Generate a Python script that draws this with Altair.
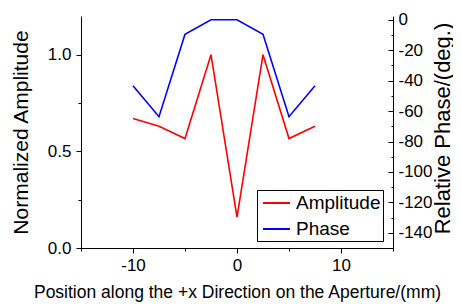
import altair as alt
import pandas as pd

# ---- data ----
positions = [-10, -7.5, -5, -2.5, 0, 2.5, 5, 7.5]
amplitude = [0.67, 0.63, 0.566, 1.0, 0.16, 1.0, 0.566, 0.63]
phase = [-43.3, -63.7, -9.5, 0, 0, -9.5, -63.7, -43.3]
series_names = ["Amplitude", "Phase"]
series_colors = ["#ff0000", "#0000ff"]

x_ticks = [-15, -10, -5, 0, 5, 10, 15]
amp_ticks = [0, 0.25, 0.5, 0.75, 1.0]
phase_ticks = list(range(-150, 1, 10))

amp_df = pd.DataFrame({"x": positions, "value": amplitude, "series": series_names[0]})
phase_df = pd.DataFrame({"x": positions, "value": phase, "series": series_names[1]})

FONT = "Liberation Sans"

color = alt.Color(
    "series:N",
    scale=alt.Scale(domain=series_names, range=series_colors),
    legend=alt.Legend(
        title=None,
        orient="none",
        legendX=176,
        legendY=174,
        symbolType="M-0.7,0H2",
        symbolSize=400,
        symbolStrokeWidth=2,
        labelFontSize=19,
        labelFont=FONT,
        labelColor="black",
        labelOffset=15,
        rowPadding=5,
        padding=2,
        strokeColor="black",
        fillColor="white",
        cornerRadius=0,
    ),
)

x_enc = alt.X(
    "x:Q",
    scale=alt.Scale(domain=[-15, 15], nice=False, zero=False),
    axis=alt.Axis(
        values=x_ticks,
        labelExpr="datum.value % 10 == 0 ? '' + datum.value : ''",
        tickSize={"condition": {"test": "datum.value % 10 == 0", "value": 5}, "value": 3},
        labelPadding=4,
        title="Position along the +x Direction on the Aperture/(mm)",
        titleFontSize=17.5,
        titleX=156,
        titleY=44,
        titleAlign="center",
        titleBaseline="middle",
    ),
)

amp_layer = alt.Chart(amp_df).mark_line(strokeWidth=1.6).encode(
    x=x_enc,
    y=alt.Y(
        "value:Q",
        scale=alt.Scale(domain=[0, 1.2], nice=False, zero=False),
        axis=alt.Axis(
            orient="left",
            values=amp_ticks,
            labelExpr="datum.value % 0.5 == 0 ? format(datum.value, '.1f') : ''",
            tickSize={"condition": {"test": "datum.value % 0.5 == 0", "value": 5}, "value": 3},
            labelPadding=5,
            title="Normalized Amplitude",
            titleFontSize=21,
            titleAngle=270,
            titleX=-60,
            titleY=116,
            titleAlign="center",
            titleBaseline="middle",
        ),
    ),
    color=color,
)

phase_layer = alt.Chart(phase_df).mark_line(strokeWidth=1.6).encode(
    x=x_enc,
    y=alt.Y(
        "value:Q",
        scale=alt.Scale(domain=[-150, 2.5], nice=False, zero=False),
        axis=alt.Axis(
            orient="right",
            values=phase_ticks,
            labelExpr="datum.value % 20 == 0 ? '' + datum.value : ''",
            tickSize={"condition": {"test": "datum.value % 20 == 0", "value": -5}, "value": -2},
            labelPadding=10,
            title="Relative Phase/(deg.)",
            titleFontSize=22,
            titleAngle=270,
            titleX=49,
            titleY=112,
            titleAlign="center",
            titleBaseline="middle",
        ),
    ),
    color=color,
)

chart = (
    alt.layer(amp_layer, phase_layer)
    .resolve_scale(y="independent")
    .properties(
        width=312,
        height=232,
        autosize=alt.AutoSizeParams(type="none"),
        padding={"left": 73, "top": 8, "right": 60, "bottom": 56},
    )
    .configure_view(stroke=None)
    .configure_axis(
        grid=False,
        domainColor="black",
        domainWidth=1,
        tickColor="black",
        tickWidth=1,
        labelFont=FONT,
        labelFontSize=17,
        labelColor="black",
        titleFont=FONT,
        titleFontWeight="normal",
        titleColor="black",
    )
)

chart.save("out.html", embed_options={"renderer": "svg", "actions": False})
